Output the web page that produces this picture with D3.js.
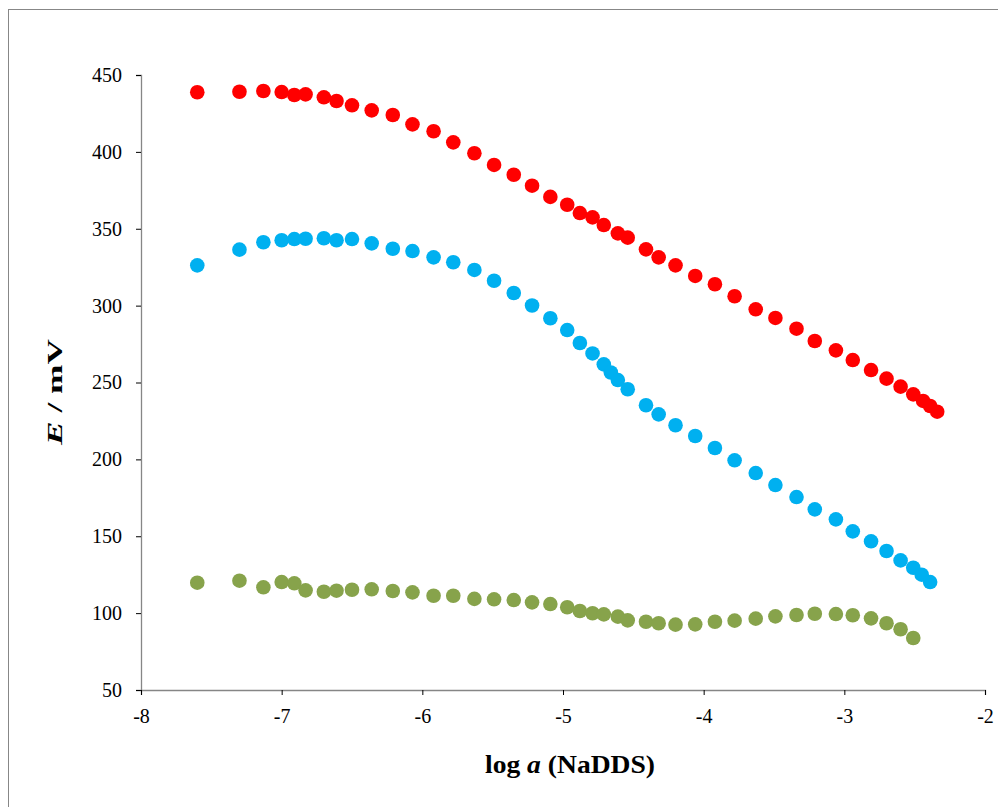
<!DOCTYPE html>
<html>
<head>
<meta charset="utf-8">
<script src="https://cdn.jsdelivr.net/npm/d3@7"></script>
<style>
  body { margin: 0; background: #fff; }
  svg text { font-family: "Liberation Serif", "Times New Roman", serif; }
</style>
</head>
<body>
<div id="chart"></div>
<script>
// log a values (x) and potentials E / mV for each series
const redX = [-7.60, -7.30, -7.13, -7.00, -6.91, -6.83, -6.70, -6.61, -6.50, -6.36, -6.21, -6.07, -5.92, -5.78, -5.63, -5.49, -5.35, -5.22, -5.09, -4.97, -4.88, -4.79, -4.71, -4.61, -4.54, -4.41, -4.32, -4.20, -4.06, -3.92, -3.78, -3.63, -3.49, -3.34, -3.21, -3.06, -2.94, -2.81, -2.70, -2.60, -2.51, -2.44, -2.39, -2.34];
const redE = [438.8, 439.1, 439.6, 438.9, 437.0, 437.4, 435.5, 433.1, 430.3, 427.0, 424.0, 417.9, 413.4, 406.2, 399.1, 391.5, 385.1, 378.0, 370.7, 365.6, 360.2, 357.4, 352.4, 347.0, 344.2, 336.6, 331.4, 326.2, 319.3, 313.9, 306.1, 297.6, 292.0, 285.0, 277.0, 270.9, 264.6, 258.1, 252.5, 247.3, 242.3, 238.0, 234.7, 231.0];

const blueX = [-7.60, -7.30, -7.13, -7.00, -6.91, -6.83, -6.70, -6.61, -6.50, -6.36, -6.21, -6.07, -5.92, -5.78, -5.63, -5.49, -5.35, -5.22, -5.09, -4.97, -4.88, -4.79, -4.71, -4.66, -4.61, -4.54, -4.41, -4.32, -4.20, -4.06, -3.92, -3.78, -3.63, -3.49, -3.34, -3.21, -3.06, -2.94, -2.81, -2.70, -2.60, -2.51, -2.45, -2.39];
const blueE = [326.2, 336.4, 341.2, 342.5, 343.3, 343.5, 343.8, 342.5, 343.3, 340.5, 337.0, 335.5, 331.4, 328.2, 323.2, 316.2, 308.2, 300.1, 291.8, 284.1, 275.7, 268.9, 261.8, 256.5, 251.6, 245.6, 235.2, 229.3, 222.2, 215.2, 207.4, 199.4, 191.1, 183.3, 175.5, 167.5, 161.0, 153.2, 146.7, 140.4, 134.3, 129.5, 125.0, 120.2];

const greenX = [-7.60, -7.30, -7.13, -7.00, -6.91, -6.83, -6.70, -6.61, -6.50, -6.36, -6.21, -6.07, -5.92, -5.78, -5.63, -5.49, -5.35, -5.22, -5.09, -4.97, -4.88, -4.79, -4.71, -4.61, -4.54, -4.41, -4.32, -4.20, -4.06, -3.92, -3.78, -3.63, -3.49, -3.34, -3.21, -3.06, -2.94, -2.81, -2.70, -2.60, -2.51];
const greenE = [119.8, 121.1, 116.8, 120.2, 119.4, 114.8, 113.9, 114.6, 115.2, 115.5, 114.4, 113.5, 111.3, 111.3, 109.3, 109.0, 108.5, 107.0, 105.9, 103.8, 101.4, 99.9, 99.2, 97.7, 95.3, 94.4, 93.4, 92.5, 92.7, 94.4, 95.1, 96.4, 97.9, 98.8, 99.6, 99.4, 98.6, 96.6, 93.4, 89.5, 83.8];

const xTicks = [-8, -7, -6, -5, -4, -3, -2];
const yTicks = [50, 100, 150, 200, 250, 300, 350, 400, 450];

const series = [
  { xs: redX, ys: redE, color: '#ff0000' },
  { xs: blueX, ys: blueE, color: '#00b0f0' },
  { xs: greenX, ys: greenE, color: '#87a34b' }
];

const width = 998, height = 807;
const margin = { top: 75, right: 13, bottom: 117, left: 141 };

const svg = d3.select('#chart').append('svg')
  .attr('width', width)
  .attr('height', height);

// outer frame
svg.append('rect')
  .attr('x', 8.5).attr('y', 9.5)
  .attr('width', width + 10).attr('height', height + 10)
  .attr('fill', 'none')
  .attr('stroke', '#878787')
  .attr('stroke-width', 1);

const x = d3.scaleLinear().domain([-8, -2]).range([margin.left, width - margin.right]);
const y = d3.scaleLinear().domain([50, 450]).range([height - margin.bottom, margin.top]);

// y axis
const yAxis = svg.append('g')
  .attr('transform', `translate(${margin.left},0)`)
  .call(d3.axisLeft(y).tickValues(yTicks).tickSize(5).tickPadding(14));
yAxis.select('.domain').attr('stroke', '#868686').attr('stroke-width', 1.3);
yAxis.selectAll('.tick line').attr('stroke', '#000');
yAxis.selectAll('.tick text').attr('font-size', '20px').attr('fill', '#000')
  .attr('font-family', '"Liberation Serif", serif')
  .text(d => String(d));

// x axis
const xAxis = svg.append('g')
  .attr('transform', `translate(0,${height - margin.bottom})`)
  .call(d3.axisBottom(x).tickValues(xTicks).tickSize(5).tickPadding(14));
xAxis.select('.domain').attr('stroke', '#868686').attr('stroke-width', 1.3);
xAxis.selectAll('.tick line').attr('stroke', '#000');
xAxis.selectAll('.tick text').attr('font-size', '20px').attr('fill', '#000')
  .attr('font-family', '"Liberation Serif", serif')
  .text(d => String(d));

// points
series.forEach(s => {
  svg.append('g')
    .selectAll('circle')
    .data(s.xs.map((v, i) => [v, s.ys[i]]))
    .enter().append('circle')
    .attr('cx', d => x(d[0]))
    .attr('cy', d => y(d[1]))
    .attr('r', 7.3)
    .attr('fill', s.color);
});

// axis titles (stretched a little, like the original)
const xt = svg.append('text')
  .attr('x', 570).attr('y', 773)
  .attr('text-anchor', 'middle')
  .attr('font-size', '25px')
  .attr('font-weight', 'bold')
  .attr('textLength', 170)
  .attr('lengthAdjust', 'spacingAndGlyphs');
xt.append('tspan').text('log ');
xt.append('tspan').attr('font-style', 'italic').text('a');
xt.append('tspan').text(' (NaDDS)');

const yt = svg.append('text')
  .attr('transform', 'translate(62,392) rotate(-90)')
  .attr('text-anchor', 'middle')
  .attr('font-size', '21px')
  .attr('font-weight', 'bold')
  .attr('textLength', 106)
  .attr('lengthAdjust', 'spacingAndGlyphs');
yt.append('tspan').attr('font-style', 'italic').text('E');
yt.append('tspan').text(' / mV');
</script>
</body>
</html>
